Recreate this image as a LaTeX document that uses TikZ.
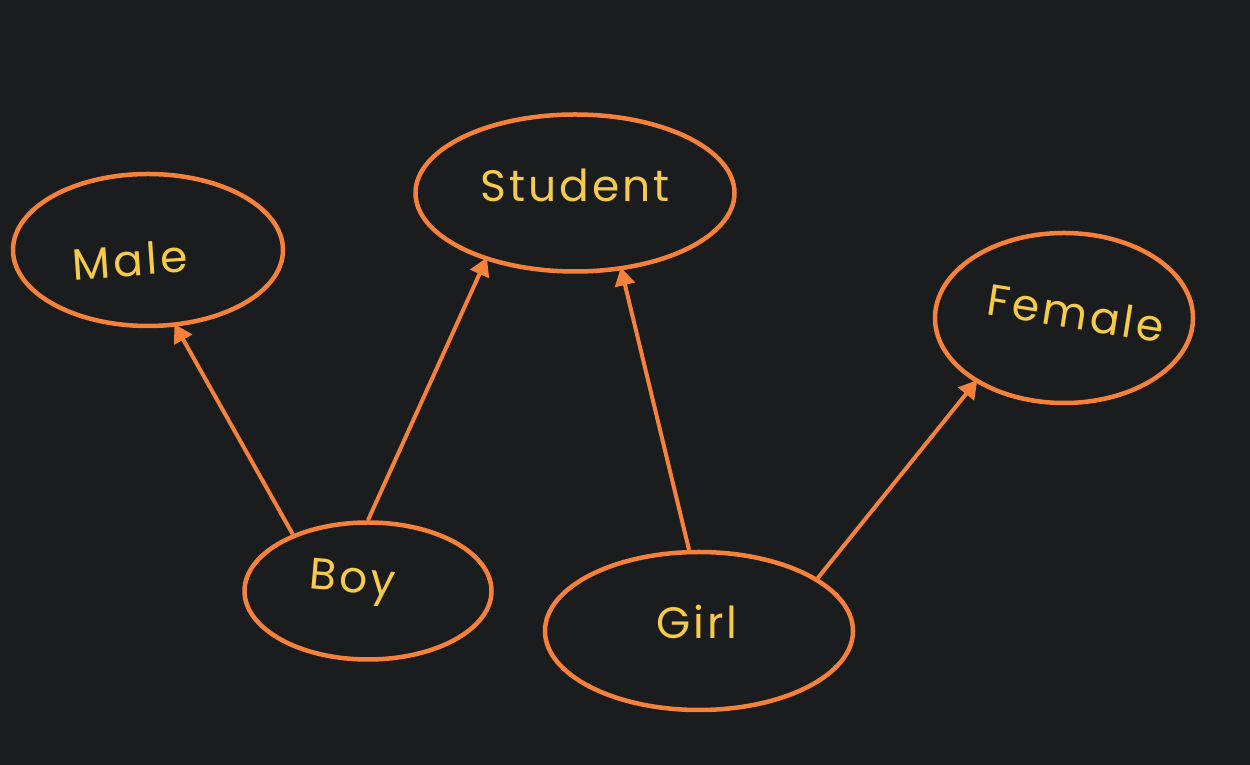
\documentclass[tikz,border=0pt]{standalone}
\usepackage{fontspec}
\setmainfont{Poppins}
\usetikzlibrary{shapes.geometric,arrows.meta}
\definecolor{board}{HTML}{1B1C1E}
\definecolor{chalkorange}{HTML}{F5813A}
\definecolor{chalkyellow}{HTML}{F6CB4A}
\tikzset{
  bubble/.style={ellipse, draw=chalkorange, line width=4.5pt, inner sep=0pt},
  word/.style={text=chalkyellow, inner sep=1pt, font=\fontsize{44}{46}\selectfont\addfontfeatures{LetterSpace=7}},
  link/.style={draw=chalkorange, line width=4pt,
    -{Triangle[length=18pt,width=20pt]}, shorten >=-3pt}
}
\begin{document}
\begin{tikzpicture}[x=1pt,y=1pt]
\fill[board] (0,0) rectangle (1250,765);
\useasboundingbox (0,0) rectangle (1250,765);
\node[bubble, minimum width=270pt, minimum height=152pt] (male) at (148,515) {};
\node[bubble, minimum width=319pt, minimum height=157pt] (student) at (575,572) {};
\node[bubble, minimum width=258pt, minimum height=170pt] (female) at (1064,447) {};
\node[bubble, minimum width=247pt, minimum height=137pt] (boy) at (368,174) {};
\node[bubble, minimum width=308pt, minimum height=158pt] (girl) at (699,134) {};
\node[word, rotate=4] (malet) at (130,505) {Male};
\node[word] (studentt) at (575,580) {Student};
\node[word, rotate=-9] (femalet) at (1076,452) {Female};
\node[word, rotate=-5] (boyt) at (352,182) {Boy};
\node[word] (girlt) at (697,143) {Girl};
\draw[link] (boy.143) -- (male.-70);
\draw[link] (boy.90) -- (student.217);
\draw[link] (girl.97) -- (student.-59);
\draw[link] (girl.24) -- (female.216);
\end{tikzpicture}
\end{document}
